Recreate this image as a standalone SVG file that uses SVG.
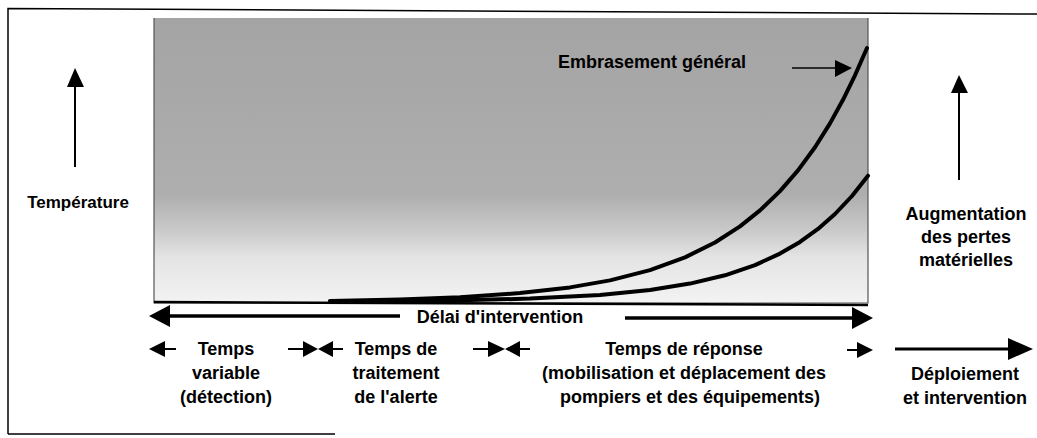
<svg xmlns="http://www.w3.org/2000/svg" width="1037" height="438" viewBox="0 0 1037 438">
  <defs>
    <linearGradient id="heat" x1="0" y1="0" x2="0" y2="1">
      <stop offset="0" stop-color="#a4a4a4"/>
      <stop offset="0.62" stop-color="#aeaeae"/>
      <stop offset="0.74" stop-color="#c8c8c8"/>
      <stop offset="0.84" stop-color="#e4e4e4"/>
      <stop offset="1" stop-color="#f3f3f3"/>
    </linearGradient>
  </defs>
  <style>
    text { font-family: "Liberation Sans", Arial, sans-serif; font-weight: bold; font-size: 18px; fill: #000; }
    .c { text-anchor: middle; }
    .frame { fill: none; stroke: #000; stroke-width: 1.5; }
    .stem { stroke: #000; stroke-width: 2; fill: none; }
    .thick { stroke: #000; stroke-width: 3.5; fill: none; }
    .thin { stroke: #000; stroke-width: 1.5; fill: none; }
    .head { fill: #000; stroke: none; }
    .curve { fill: none; stroke: #000; stroke-width: 4; stroke-linecap: round; stroke-linejoin: round; }
  </style>

  <rect width="1037" height="438" fill="#fff"/>

  <g id="frame">
    <path class="frame" d="M8,434 V8.5 L1037,14"/>
    <path class="frame" d="M8,434 H335"/>
  </g>

  <g id="plot">
    <rect x="154" y="18" width="714" height="285" fill="url(#heat)"/>
    <path d="M154,18 V303 H868 V18" fill="none" stroke="#555" stroke-width="1.2"/>
    <path d="M154,302 L868,305" stroke="#000" stroke-width="2.5" fill="none"/>
  </g>

  <g id="curves">
    <path id="curve-upper" class="curve" d="M330,301 L400,299.5 L460,297.2 L520,293.1 L570,287.4 L610,280.4 L650,270.1 L685,257.4 L715,242.5 L740,226.4 L760,210.4 L780,191.1 L798,170.4 L815,147.2 L830,123.4 L843,99.8 L855,75.3 L867,48"/>
    <path id="curve-lower" class="curve" d="M330,301.5 L450,300.6 L530,298.6 L600,295 L650,289.9 L690,283.6 L725,275.3 L755,265.1 L780,253.6 L800,241.9 L818,228.9 L835,214 L852,196 L868,175.7"/>
  </g>

  <g id="label-embrasement">
    <text x="558" y="68">Embrasement général</text>
  </g>

  <g id="label-temperature">
    <text class="c" x="78" y="208" style="font-size:17px">Température</text>
  </g>

  <g id="label-pertes">
    <text class="c" x="966" y="220">Augmentation</text>
    <text class="c" x="966" y="243">des pertes</text>
    <text class="c" x="966" y="266">matérielles</text>
  </g>

  <g id="label-delai">
    <text class="c" x="500" y="323">Délai d'intervention</text>
  </g>

  <g id="label-detection">
    <text class="c" x="226" y="355">Temps</text>
    <text class="c" x="226" y="379">variable</text>
    <text class="c" x="226" y="403">(détection)</text>
  </g>

  <g id="label-alerte">
    <text class="c" x="396" y="355">Temps de</text>
    <text class="c" x="396" y="379">traitement</text>
    <text class="c" x="396" y="403">de l'alerte</text>
  </g>

  <g id="label-reponse">
    <text class="c" x="684" y="355">Temps de réponse</text>
    <text class="c" x="684" y="379">(mobilisation et déplacement des</text>
    <text class="c" x="690" y="403">pompiers et des équipements)</text>
  </g>

  <g id="label-deploiement">
    <text class="c" x="965" y="380">Déploiement</text>
    <text class="c" x="965" y="404">et intervention</text>
  </g>

  <g id="connectors">
    <!-- temperature axis -->
    <line class="stem" x1="75" y1="167" x2="75" y2="86"/>
    <polygon class="head" points="75,68 67,87 84,87"/>
    <!-- losses axis -->
    <line class="stem" x1="959" y1="180" x2="959" y2="92"/>
    <polygon class="head" points="959,75 951,93 968,93"/>
    <!-- embrasement pointer -->
    <line class="thin" x1="792" y1="68" x2="836" y2="68"/>
    <polygon class="head" points="852,68 835,60 835,77"/>
    <!-- délai d'intervention -->
    <polygon class="head" points="149,316 170,305 170,327"/>
    <line class="thick" x1="169" y1="316" x2="400" y2="316"/>
    <line class="thick" x1="625" y1="318" x2="853" y2="318"/>
    <polygon class="head" points="873,318 852,307 852,329"/>
    <!-- phase markers -->
    <polygon class="head" points="149,349 165,341 165,357"/>
    <line class="stem" x1="164" y1="349" x2="176" y2="349"/>
    <line class="stem" x1="288" y1="349" x2="304" y2="349"/>
    <polygon class="head" points="318,349 303,341 303,357"/>
    <polygon class="head" points="318,349 333,341 333,357"/>
    <line class="stem" x1="332" y1="349" x2="343" y2="349"/>
    <line class="stem" x1="473" y1="349" x2="489" y2="349"/>
    <polygon class="head" points="505,349 488,341 488,357"/>
    <polygon class="head" points="505,349 520,341 520,357"/>
    <line class="stem" x1="519" y1="349" x2="530" y2="349"/>
    <line class="stem" x1="847" y1="350" x2="858" y2="350"/>
    <polygon class="head" points="873,350 857,342 857,358"/>
    <!-- déploiement -->
    <line class="thick" x1="895" y1="349" x2="1009" y2="349" style="stroke-width:3"/>
    <polygon class="head" points="1033,349 1008,338 1008,360"/>
  </g>
</svg>
